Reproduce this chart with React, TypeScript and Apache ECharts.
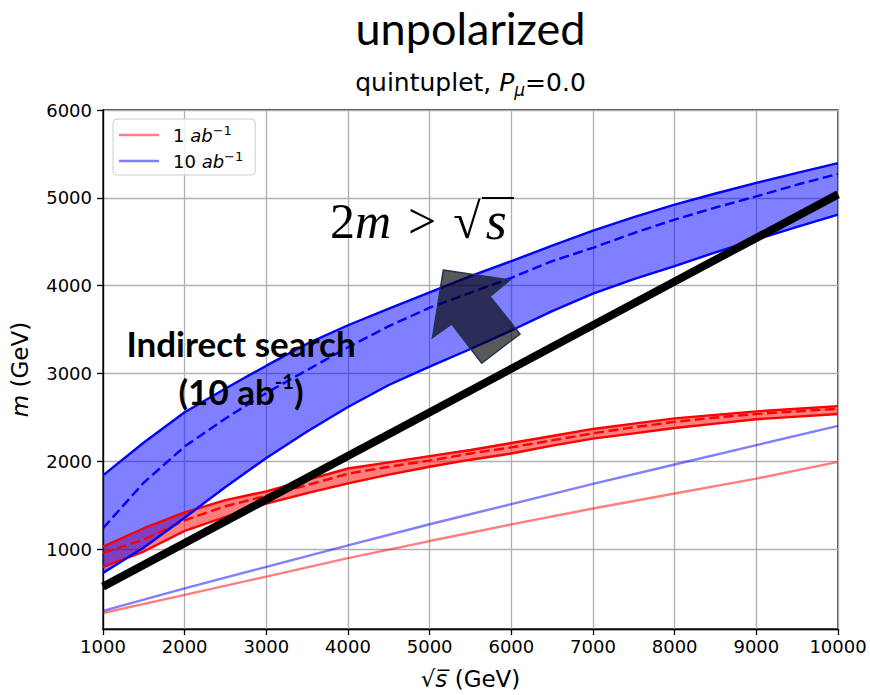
import React, { useEffect, useRef } from "react";
import * as echarts from "echarts";

// Collider energy grid (GeV) for the exclusion bands
const sqrtS = [1000, 1500, 2000, 2500, 3000, 3500, 4000, 4500, 5000, 5500, 6000, 6500, 7000, 7500, 8000, 8500, 9000, 9500, 10000];

// 10 ab^-1 band: upper / central / lower reach in m (GeV)
const blueUpper = [1842, 2215, 2560, 2830, 3090, 3340, 3550, 3740, 3925, 4110, 4280, 4455, 4628, 4780, 4923, 5050, 5170, 5285, 5396];
const blueCentral = [1240, 1760, 2170, 2490, 2780, 3040, 3300, 3540, 3750, 3920, 4090, 4280, 4432, 4600, 4753, 4890, 5017, 5150, 5274];
const blueLower = [730, 1020, 1360, 1710, 2040, 2340, 2620, 2870, 3080, 3280, 3490, 3710, 3910, 4075, 4223, 4380, 4526, 4670, 4810];

// 1 ab^-1 band: upper / central / lower reach in m (GeV)
const redUpper = [1030, 1240, 1420, 1560, 1660, 1790, 1920, 1990, 2060, 2130, 2210, 2290, 2370, 2430, 2490, 2530, 2570, 2600, 2630];
const redCentral = [960, 1110, 1330, 1490, 1610, 1730, 1860, 1940, 2010, 2090, 2160, 2240, 2320, 2390, 2450, 2500, 2540, 2570, 2600];
const redLower = [800, 975, 1210, 1370, 1520, 1640, 1750, 1850, 1940, 2020, 2090, 2180, 2260, 2320, 2380, 2430, 2480, 2510, 2540];

// Direct-search reach lines
const directX = [1000, 2000, 3000, 4000, 5000, 6000, 7000, 8000, 9000, 10000];
const direct1ab = [275, 482, 690, 900, 1094, 1283, 1465, 1635, 1805, 1995];
const direct10ab = [300, 555, 800, 1045, 1285, 1515, 1745, 1965, 2185, 2405];

// Pair-production threshold 2m = sqrt(s)
const thresholdX = [1000, 10000];
const thresholdM = [575, 5040];

const LEGEND_1 = "1 ab-1";
const LEGEND_10 = "10 ab-1";

const pairs = (xs: number[], ys: number[]) => xs.map((x, i) => [x, ys[i]]);

const RED = "#ff0000";
const BLUE = "#0000ff";
const RED_A = "rgba(255,0,0,0.5)";
const BLUE_A = "rgba(0,0,255,0.5)";
const LW = 2.4;

// Filled region between a lower and an upper curve, drawn as one polygon
function bandSeries(lo: number[], hi: number[], fill: string) {
  return {
    type: "custom",
    silent: true,
    clip: true,
    data: sqrtS.map((x, i) => [x, lo[i], hi[i]]),
    encode: { x: 0, y: [1, 2] },
    renderItem: (params: any, api: any) => {
      if (params.dataIndex !== 0) return null;
      const pts: number[][] = [];
      for (let i = 0; i < sqrtS.length; i++) pts.push(api.coord([sqrtS[i], hi[i]]));
      for (let i = sqrtS.length - 1; i >= 0; i--) pts.push(api.coord([sqrtS[i], lo[i]]));
      return { type: "polygon", shape: { points: pts }, style: { fill } };
    },
  };
}

function curve(xs: number[], ys: number[], color: string, dashed = false, name?: string) {
  return {
    type: "line",
    name,
    data: pairs(xs, ys),
    symbol: "none",
    silent: true,
    itemStyle: { color },
    lineStyle: { color, width: LW, type: dashed ? [10, 4.5] : "solid" },
  };
}

const tickFont = { fontFamily: "DejaVu Sans", fontSize: 18, color: "#000" };
const nameFont = { fontFamily: "DejaVu Sans", fontSize: 23, color: "#000" };
const mathFont = { fontFamily: "Liberation Serif", fontSize: 50, lineHeight: 56, fill: "#000" };

export default function App() {
  const ref = useRef<HTMLDivElement>(null);

  useEffect(() => {
    if (!ref.current) return;
    const chart = echarts.init(ref.current, null, { renderer: "svg" });

    const option: any = {
      animation: false,
      backgroundColor: "#ffffff",
      grid: {
        left: 103,
        right: 32,
        top: 110,
        bottom: 64,
        show: true,
        borderColor: "#000",
        borderWidth: 1.3,
        backgroundColor: "transparent",
      },
      xAxis: {
        type: "value",
        min: 1000,
        max: 10000,
        interval: 1000,
        axisLine: { show: true, onZero: false, lineStyle: { color: "#000", width: 1.3 } },
        axisTick: { show: true, length: 6, lineStyle: { color: "#000", width: 1.3 } },
        axisLabel: { ...tickFont, margin: 8, formatter: (v: number) => String(v) },
        splitLine: { show: true, lineStyle: { color: "#b0b0b0", width: 1.3 } },
        name: "{r|√}{i|s\u0305}{t| (GeV)}",
        nameLocation: "middle",
        nameGap: 38,
        nameTextStyle: {
          ...nameFont,
          rich: {
            r: { ...nameFont },
            i: { ...nameFont, fontStyle: "italic" },
            t: { ...nameFont },
          },
        },
      },
      yAxis: {
        type: "value",
        min: 93,
        max: 6000,
        axisLine: { show: true, onZero: false, lineStyle: { color: "#000", width: 1.3 } },
        axisTick: { show: true, length: 6, lineStyle: { color: "#000", width: 1.3 } },
        axisLabel: {
          ...tickFont,
          margin: 11,
          showMinLabel: false,
          formatter: (v: number) => (v % 1000 === 0 ? String(v) : ""),
        },
        splitLine: { show: true, lineStyle: { color: "#b0b0b0", width: 1.3 } },
        name: "{i|m}{t| (GeV)}",
        nameLocation: "middle",
        nameGap: 72,
        nameTextStyle: {
          ...nameFont,
          rich: {
            i: { ...nameFont, fontStyle: "italic" },
            t: { ...nameFont },
          },
        },
      },
      legend: {
        data: [
          { name: LEGEND_1, icon: "rect", itemStyle: { color: RED_A } },
          { name: LEGEND_10, icon: "rect", itemStyle: { color: BLUE_A } },
        ],
        orient: "vertical",
        left: 113,
        top: 119,
        itemWidth: 40,
        itemHeight: 2.5,
        itemGap: 6,
        padding: [5, 12, 5, 6],
        backgroundColor: "rgba(255,255,255,0.8)",
        borderColor: "#cccccc",
        borderWidth: 1,
        borderRadius: 4,
        selectedMode: false,
        formatter: (name: string) =>
          name === LEGEND_1 ? "{t|1 }{i|ab}{s|\u22121}" : "{t|10 }{i|ab}{s|\u22121}",
        textStyle: {
          padding: [0, 0, 0, 9],
          rich: {
            t: { ...tickFont, lineHeight: 22 },
            i: { ...tickFont, fontStyle: "italic", lineHeight: 22 },
            s: { ...tickFont, fontSize: 13, lineHeight: 22, verticalAlign: "top" },
          },
        },
      },
      series: [
        bandSeries(redLower, redUpper, RED_A),
        bandSeries(blueLower, blueUpper, BLUE_A),
        curve(directX, direct1ab, RED_A, false, LEGEND_1),
        curve(directX, direct10ab, BLUE_A, false, LEGEND_10),
        curve(sqrtS, redUpper, RED),
        curve(sqrtS, redLower, RED),
        curve(sqrtS, redCentral, RED, true),
        curve(sqrtS, blueUpper, BLUE),
        curve(sqrtS, blueLower, BLUE),
        curve(sqrtS, blueCentral, BLUE, true),
        {
          type: "line",
          data: pairs(thresholdX, thresholdM),
          symbol: "none",
          silent: true,
          lineStyle: { color: "#000", width: 8, cap: "butt" },
          z: 5,
        },
      ],
      graphic: [
        {
          type: "text",
          x: 470.5,
          y: 28,
          style: {
            text: "unpolarized",
            fontFamily: "Lato",
            fontSize: 45,
            fill: "#000",
            align: "center",
            verticalAlign: "middle",
          },
        },
        {
          type: "text",
          x: 470.5,
          y: 82,
          style: {
            text: "{a|quintuplet, }{p|P}{u|\u03bc}{a|=0.0}",
            align: "center",
            verticalAlign: "middle",
            rich: {
              a: { fontFamily: "DejaVu Sans", fontSize: 25, lineHeight: 32, fill: "#000" },
              p: { fontFamily: "DejaVu Sans", fontSize: 25, lineHeight: 32, fontStyle: "italic", fill: "#000" },
              u: { fontFamily: "DejaVu Sans", fontSize: 17, lineHeight: 32, fontStyle: "italic", verticalAlign: "bottom", fill: "#000" },
            },
          },
        },
        {
          type: "text",
          x: 241,
          y: 343,
          z: 10,
          style: {
            text: "Indirect search",
            fontFamily: "Lato",
            fontWeight: "bold",
            fontSize: 35,
            fill: "#000",
            align: "center",
            verticalAlign: "middle",
          },
        },
        {
          type: "text",
          x: 241,
          y: 391,
          z: 10,
          style: {
            text: "{b|(10 ab}{s|-1}{b|)}",
            align: "center",
            verticalAlign: "middle",
            rich: {
              b: { fontFamily: "Lato", fontWeight: "bold", fontSize: 35, lineHeight: 40, fill: "#000" },
              s: { fontFamily: "Lato", fontWeight: "bold", fontSize: 20, lineHeight: 40, verticalAlign: "top", fill: "#000" },
            },
          },
        },
        {
          type: "text",
          x: 330,
          y: 221,
          z: 10,
          style: {
            text: "{n|2}{i|m}{g|>}{r|√}{s|s}",
            align: "left",
            verticalAlign: "middle",
            rich: {
              n: { ...mathFont },
              i: { ...mathFont, fontStyle: "italic" },
              g: { ...mathFont, padding: [0, 17, 0, 17] },
              r: { ...mathFont },
              s: { ...mathFont, fontStyle: "italic", fontSize: 54, padding: [0, 0, 0, 5] },
            },
          },
        },
        {
          type: "line",
          z: 10,
          shape: { x1: 482, y1: 198, x2: 514, y2: 198 },
          style: { stroke: "#000", lineWidth: 2 },
        },
        {
          type: "polygon",
          z: 10,
          shape: {
            points: [
              [443.3, 270],
              [510, 280],
              [490, 296.5],
              [520, 334],
              [481.7, 363.3],
              [451.7, 324],
              [432.5, 337.5],
            ],
          },
          style: { fill: "rgba(0,0,0,0.65)", stroke: "#1f3552", lineWidth: 1.5 },
        },
      ],
    };

    chart.setOption(option);
    return () => chart.dispose();
  }, []);

  return (
    <div
      ref={ref}
      style={{ position: "fixed", left: 0, top: 0, width: 870, height: 695, background: "#fff" }}
    />
  );
}
